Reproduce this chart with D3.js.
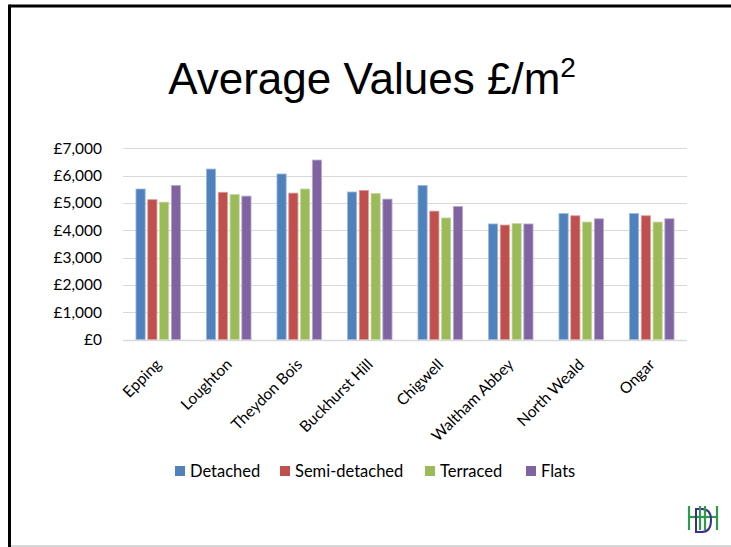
<!DOCTYPE html>
<html>
<head>
<meta charset="utf-8">
<script src="https://cdn.jsdelivr.net/npm/d3@7"></script>
<style>
  html, body { margin: 0; padding: 0; background: #fff; }
  svg { display: block; }
</style>
</head>
<body>
<svg id="chart" width="731" height="547"></svg>
<script>
// Average value per square metre by town and property type
const towns = ["Epping", "Loughton", "Theydon Bois", "Buckhurst Hill", "Chigwell", "Waltham Abbey", "North Weald", "Ongar"];
const seriesNames = ["Detached", "Semi-detached", "Terraced", "Flats"];
const detached     = [5510, 6240, 6060, 5400, 5640, 4230, 4610, 4610];
const semiDetached = [5120, 5390, 5360, 5460, 4700, 4190, 4530, 4530];
const terraced     = [5030, 5310, 5510, 5350, 4450, 4250, 4300, 4300];
const flats        = [5640, 5250, 6570, 5140, 4870, 4230, 4420, 4420];
const yTicks = [0, 1000, 2000, 3000, 4000, 5000, 6000, 7000];
const colors = ["#4F81BD", "#C0504D", "#9BBB59", "#8064A2"];

const seriesValues = [detached, semiDetached, terraced, flats];

const svg = d3.select("#chart");
const W = 731, H = 547;

// Slide frame
svg.append("rect").attr("x", 0).attr("y", 0).attr("width", W).attr("height", H).attr("fill", "#fff");
svg.append("line").attr("x1", 9.5).attr("x2", W).attr("y1", 6).attr("y2", 6)
  .attr("stroke", "#000").attr("stroke-width", 3);
svg.append("line").attr("x1", 9.5).attr("x2", 9.5).attr("y1", 4.5).attr("y2", H)
  .attr("stroke", "#000").attr("stroke-width", 3);
svg.append("line").attr("x1", 11).attr("x2", W).attr("y1", 546).attr("y2", 546)
  .attr("stroke", "#b0b0b0").attr("stroke-width", 1);

// Title
const title = svg.append("text")
  .attr("x", 372).attr("y", 94)
  .attr("text-anchor", "middle")
  .attr("font-family", "'Liberation Sans', Arial, sans-serif")
  .attr("font-size", 44)
  .attr("fill", "#000");
title.append("tspan").text("Average Values £/m");
title.append("tspan").attr("dy", -17).attr("font-size", 28).text("2");

// Plot area
const plotLeft = 123, plotRight = 687, plotTop = 148.3, plotBottom = 339.5;

const x0 = d3.scaleBand().domain(towns).range([plotLeft, plotRight]).paddingInner(0).paddingOuter(0);
const x1 = d3.scaleBand().domain(seriesNames).range([0, x0.bandwidth()]).paddingInner(0.22).paddingOuter(1.1);
const y = d3.scaleLinear().domain([0, 7000]).range([plotBottom, plotTop]);

const labelFont = "Lato, 'Open Sans', sans-serif";

// Gridlines
svg.append("g")
  .selectAll("line")
  .data(yTicks)
  .join("line")
  .attr("x1", plotLeft).attr("x2", plotRight)
  .attr("y1", d => Math.round(y(d)) + 0.5).attr("y2", d => Math.round(y(d)) + 0.5)
  .attr("stroke", "#D9D9D9")
  .attr("stroke-width", d => d === 0 ? 1.5 : 1);

// Y axis labels
const yAxis = d3.axisLeft(y).tickValues(yTicks).tickSize(0).tickPadding(0)
  .tickFormat(d => "£" + d3.format(",")(d));
const yg = svg.append("g").attr("transform", `translate(102,0)`).call(yAxis);
yg.select(".domain").remove();
yg.selectAll("text")
  .attr("font-family", labelFont)
  .attr("font-size", 15.5)
  .attr("fill", "#000");

// Bars
const groups = svg.append("g")
  .selectAll("g")
  .data(towns)
  .join("g")
  .attr("transform", d => `translate(${x0(d)},0)`);

groups.selectAll("rect")
  .data((town, i) => seriesNames.map((s, j) => ({ series: s, value: seriesValues[j][i], color: colors[j] })))
  .join("rect")
  .attr("x", d => x1(d.series))
  .attr("width", x1.bandwidth())
  .attr("y", d => y(d.value))
  .attr("height", d => y(0) - y(d.value))
  .attr("fill", d => d.color)
  .attr("stroke", d => d3.interpolateRgb(d.color, "#fff")(0.45))
  .attr("stroke-width", 0.8);

// Category labels
const xAxis = d3.axisBottom(x0).tickSize(0).tickPadding(0);
const xg = svg.append("g").attr("transform", `translate(0,${plotBottom})`).call(xAxis);
xg.select(".domain").remove();
xg.selectAll("text")
  .attr("font-family", labelFont)
  .attr("font-size", 15.5)
  .attr("fill", "#000")
  .attr("text-anchor", "end")
  .attr("dy", null)
  .attr("y", null)
  .attr("transform", "translate(4,26) rotate(-45)");

// Legend
const legendX = [175, 280, 425, 526];
const legend = svg.append("g")
  .selectAll("g")
  .data(seriesNames)
  .join("g")
  .attr("transform", (d, i) => `translate(${legendX[i]},466)`);
legend.append("rect").attr("width", 10).attr("height", 10).attr("fill", (d, i) => colors[i]);
legend.append("text")
  .attr("x", 15).attr("y", 11)
  .attr("font-family", labelFont)
  .attr("font-size", 16.5)
  .attr("fill", "#000")
  .text(d => d);

// Monogram logo in the corner
const logo = svg.append("g").attr("transform", "translate(688,506)");
const green = "#2e9a4a", purple = "#3b2f8f";
logo.append("line").attr("x1", 1).attr("x2", 1).attr("y1", 0).attr("y2", 24).attr("stroke", green).attr("stroke-width", 2.2);
logo.append("line").attr("x1", 29).attr("x2", 29).attr("y1", 0).attr("y2", 24).attr("stroke", green).attr("stroke-width", 2.2);
logo.append("line").attr("x1", 1).attr("x2", 29).attr("y1", 11).attr("y2", 11).attr("stroke", green).attr("stroke-width", 2.2);
logo.append("path")
  .attr("d", "M8,3 L14,3 Q23,3 23,14 Q23,26 14,26 L8,26 Z")
  .attr("fill", "none").attr("stroke", purple).attr("stroke-width", 2);
logo.append("line").attr("x1", 12).attr("x2", 12).attr("y1", 0).attr("y2", 24).attr("stroke", green).attr("stroke-width", 2.2);
logo.append("line").attr("x1", 17).attr("x2", 17).attr("y1", 0).attr("y2", 24).attr("stroke", green).attr("stroke-width", 2.2);
</script>
</body>
</html>
